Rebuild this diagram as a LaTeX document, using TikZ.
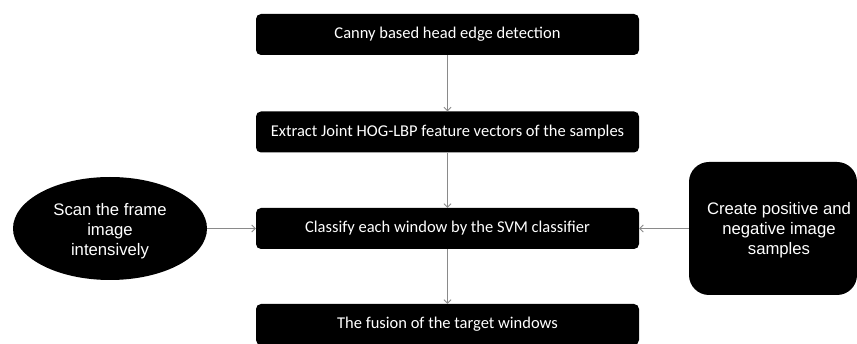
\documentclass[tikz,border=0pt]{standalone}
\usepackage{fontspec}
\setmainfont{Carlito}
\newfontfamily\arialfont{Liberation Sans}
\usetikzlibrary{shapes.geometric,arrows.meta}
\definecolor{linkgray}{HTML}{8A8A8A}
\tikzset{
  stepbox/.style={rectangle, fill=black, rounded corners=5pt, minimum width=383pt,
    minimum height=41pt, text=white, font=\fontsize{16.5}{20}\selectfont, inner sep=0pt},
  sourceoval/.style={ellipse, fill=black, minimum width=194pt, minimum height=103pt,
    text=white, inner sep=0pt, font=\arialfont\fontsize{16.7}{20}\selectfont},
  samplebox/.style={rectangle, fill=black, rounded corners=20pt, minimum width=168pt,
    minimum height=133pt, text=white, inner sep=0pt,
    font=\arialfont\fontsize{16.7}{20}\selectfont},
  link/.style={draw=linkgray, line width=0.8pt, -{Straight Barb[length=3.5pt,width=7pt]}}
}
\begin{document}
\begin{tikzpicture}[x=1pt, y=-1pt]
  \useasboundingbox (0,0) rectangle (857,344);
  % main pipeline
  \node[stepbox] (canny) at (447.5,34.5) {Canny based head edge detection};
  \node[stepbox] (hoglbp) at (447.5,132) {Extract Joint HOG-LBP feature vectors of the samples};
  \node[stepbox] (svm) at (447.5,228.5) {Classify each window by the SVM classifier};
  \node[stepbox] (fusion) at (447.5,324.5) {The fusion of the target windows};
  % side inputs (text lowered a little inside an unchanged box)
  \node[sourceoval] (scan) at (110,228.5)
    {\raisebox{-3pt}[\height][\depth]{\begin{tabular}{@{}c@{}}Scan the frame\\image\\intensively\end{tabular}}};
  \node[samplebox] (samples) at (773,228.5)
    {\hspace*{12pt}\raisebox{-2pt}[\height][\depth]{\begin{tabular}{@{}c@{}}Create positive and\\negative image\\samples\end{tabular}}};
  % connectors
  \draw[link] (canny) -- (hoglbp);
  \draw[link] (hoglbp) -- (svm);
  \draw[link] (svm) -- (fusion);
  \draw[link] (scan) -- (svm);
  \draw[link] (samples) -- (svm);
\end{tikzpicture}
\end{document}
